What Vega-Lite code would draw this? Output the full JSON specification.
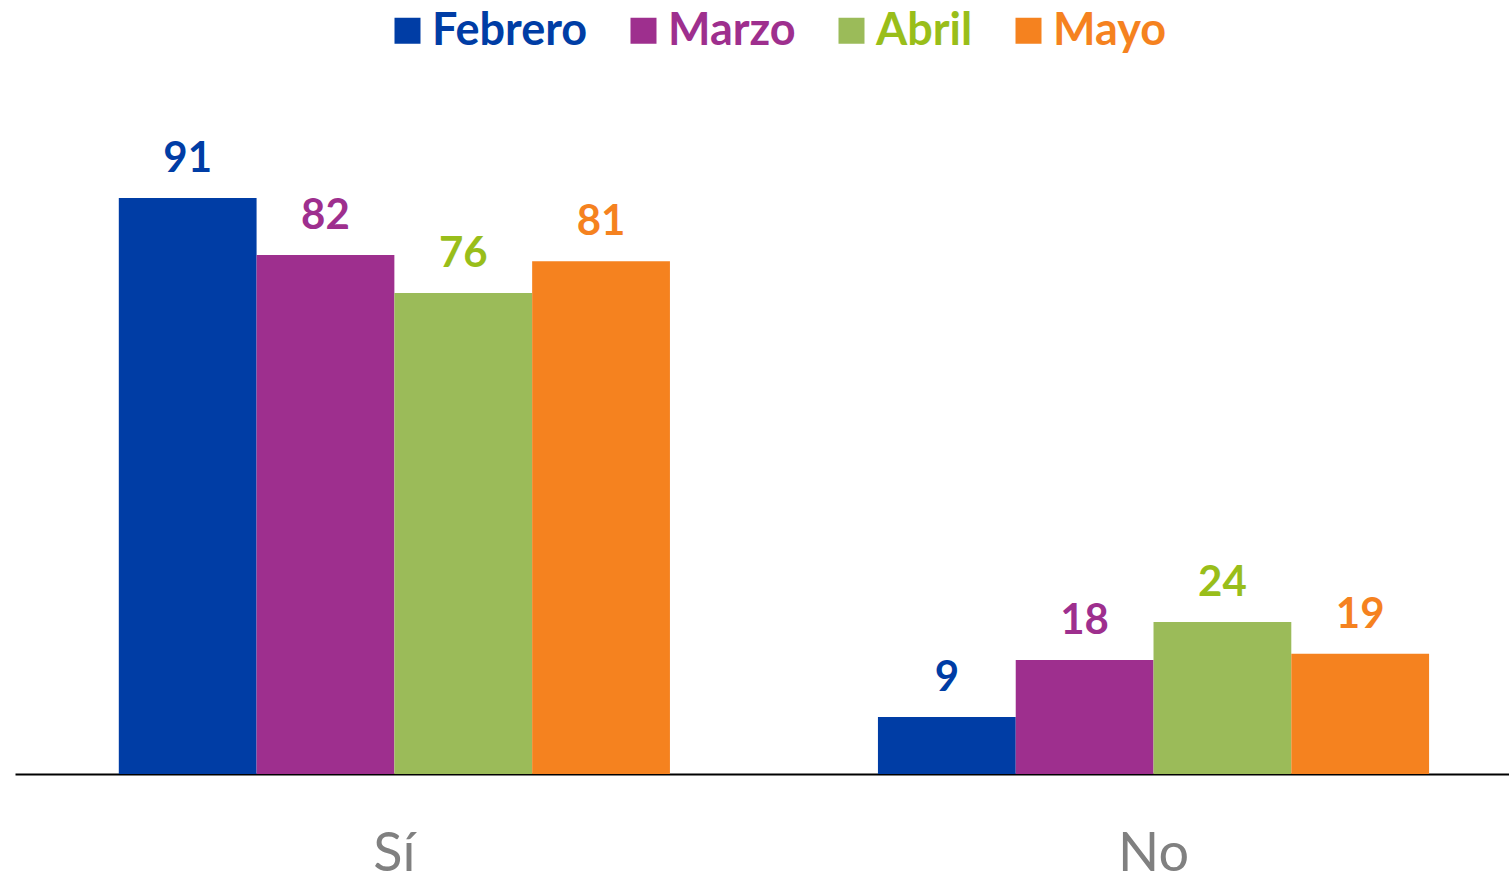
{
  "$schema": "https://vega.github.io/schema/vega-lite/v6.json",
  "autosize": "none",
  "width": 1494,
  "height": 633,
  "padding": {"left": 15, "top": 141, "right": 0, "bottom": 109},
  "background": "white",
  "config": {"view": {"stroke": null}, "font": "Lato"},
  "data": {"values": [
    {"respuesta": "Sí", "mes": "Febrero", "valor": 91},
    {"respuesta": "Sí", "mes": "Marzo", "valor": 82},
    {"respuesta": "Sí", "mes": "Abril", "valor": 76},
    {"respuesta": "Sí", "mes": "Mayo", "valor": 81},
    {"respuesta": "No", "mes": "Febrero", "valor": 9},
    {"respuesta": "No", "mes": "Marzo", "valor": 18},
    {"respuesta": "No", "mes": "Abril", "valor": 24},
    {"respuesta": "No", "mes": "Mayo", "valor": 19}
  ]},
  "encoding": {
    "x": {"field": "respuesta", "type": "nominal", "sort": ["Sí", "No"],
      "scale": {"paddingInner": 0.274, "paddingOuter": 0.121, "align": 0.565},
      "axis": {"title": null, "domainColor": "#000000", "domainWidth": 2, "ticks": false,
        "labelAngle": 0, "labelFontSize": 54, "labelColor": "#808080", "labelFont": "Lato", "labelPadding": 53}},
    "xOffset": {"field": "mes", "type": "nominal", "sort": ["Febrero", "Marzo", "Abril", "Mayo"],
      "scale": {"paddingInner": 0, "paddingOuter": 0}},
    "y": {"field": "valor", "type": "quantitative", "scale": {"domain": [0, 100], "nice": false}, "axis": null}
  },
  "layer": [
    {
      "mark": {"type": "bar"},
      "encoding": {
        "color": {"field": "mes", "type": "nominal", "sort": ["Febrero", "Marzo", "Abril", "Mayo"],
          "scale": {"domain": ["Febrero", "Marzo", "Abril", "Mayo"], "range": ["#003DA5", "#9E2F8E", "#9BBB59", "#F5821F"]},
          "legend": {"title": null, "orient": "none", "direction": "horizontal", "legendX": 370, "legendY": -133,
            "symbolType": "square", "symbolSize": 676, "symbolStrokeWidth": 0, "symbolOpacity": 1,
            "labelFontSize": 45, "labelFontWeight": "bold", "labelFont": "Lato", "labelOffset": 2, "columnPadding": 33,
            "labelLimit": 0,
            "encode": {"labels": {"update": {"fill": {"signal": "datum.value=='Febrero'?'#003DA5':datum.value=='Marzo'?'#9E2F8E':datum.value=='Abril'?'#99BE1A':'#F5821F'"}}}}}}
      }
    },
    {
      "mark": {"type": "text", "fontSize": 42, "fontWeight": "bold", "baseline": "alphabetic", "dy": -26, "font": "Lato"},
      "encoding": {
        "text": {"field": "valor", "type": "quantitative"},
        "color": {"field": "mes", "type": "nominal",
          "scale": {"domain": ["Febrero", "Marzo", "Abril", "Mayo"], "range": ["#003DA5", "#9E2F8E", "#99BE1A", "#F5821F"]},
          "legend": null}
      }
    }
  ],
  "resolve": {"scale": {"color": "independent"}}
}
